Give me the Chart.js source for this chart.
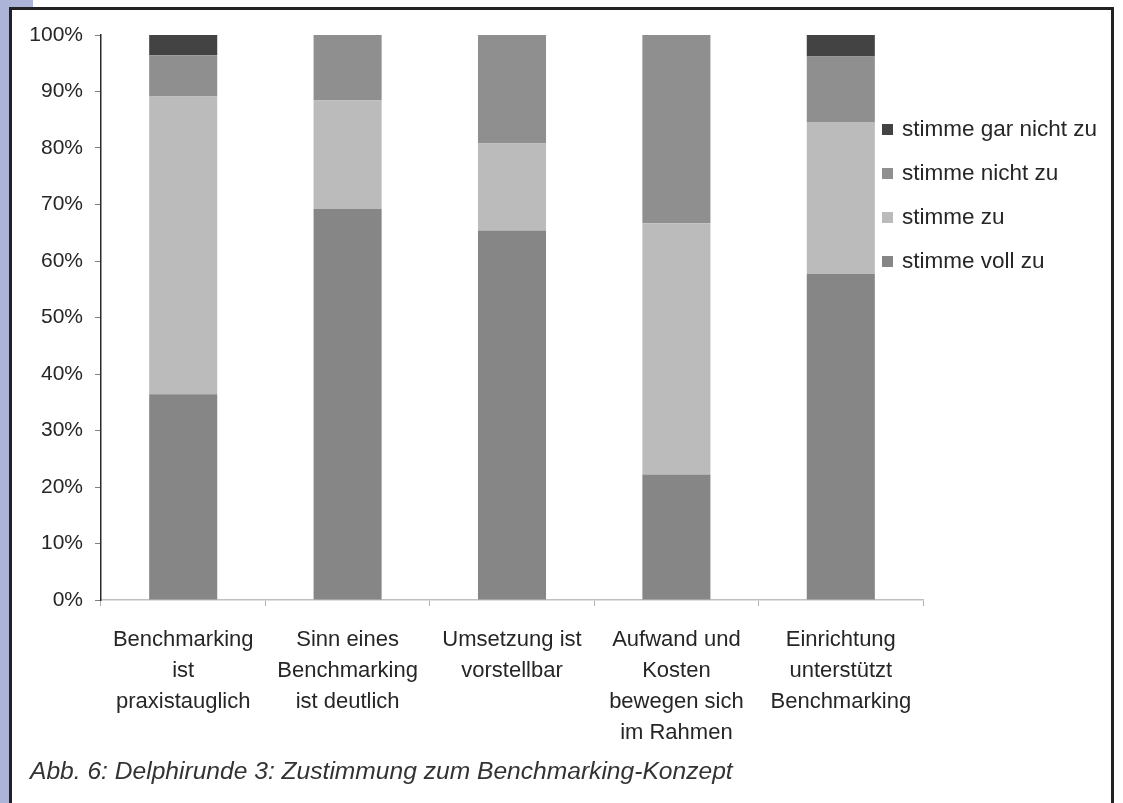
<!DOCTYPE html>
<html>
<head>
<meta charset="utf-8">
<script src="https://cdn.jsdelivr.net/npm/chart.js@4/dist/chart.umd.min.js"></script>
<style>
  html, body { margin:0; padding:0; background:#ffffff; }
  body { width:1123px; height:803px; position:relative; overflow:hidden; font-family:"Liberation Sans", Arial, sans-serif; }
  #stripL { position:absolute; left:0; top:0; width:10px; height:803px; background:#acb4d8; }
  #stripT { position:absolute; left:0; top:0; width:33px; height:8px; background:#acb4d8; }
  #frame { position:absolute; left:9px; top:7px; width:1105px; height:820px; border-left:3px solid #222; border-top:3px solid #222; border-right:3px solid #222; box-sizing:border-box; background:#fff; }
  #wrap { position:absolute; left:0; top:0; width:1123px; height:803px; }
  #legend { position:absolute; left:882px; top:0; }
  .li { position:absolute; left:0; white-space:nowrap; font-size:22.5px; color:#262626; }
  .li .box { position:absolute; left:0; width:11px; height:11px; }
  .li .txt { position:absolute; left:20px; }
  #caption { position:absolute; left:30px; top:757px; font-style:italic; font-size:24.6px; color:#333; white-space:nowrap; }
</style>
</head>
<body>
<div id="stripL"></div>
<div id="stripT"></div>
<div id="frame"></div>
<div id="wrap"><canvas id="c" width="1123" height="803"></canvas></div>
<div id="legend"></div>
<div id="caption">Abb. 6: Delphirunde 3: Zustimmung zum Benchmarking-Konzept</div>
<script>
const categories = [
  ["Benchmarking", "ist", "praxistauglich"],
  ["Sinn eines", "Benchmarking", "ist deutlich"],
  ["Umsetzung ist", "vorstellbar"],
  ["Aufwand und", "Kosten", "bewegen sich", "im Rahmen"],
  ["Einrichtung", "unterstützt", "Benchmarking"]
];
const seriesNames = ["stimme voll zu", "stimme zu", "stimme nicht zu", "stimme gar nicht zu"];
const stimmeVollZu     = [36.4, 69.2, 65.4, 22.2, 57.7];
const stimmeZu         = [52.7, 19.2, 15.4, 44.5, 26.9];
const stimmeNichtZu    = [7.3, 11.6, 19.2, 33.3, 11.6];
const stimmeGarNichtZu = [3.6, 0, 0, 0, 3.8];
const yTicks = [0, 10, 20, 30, 40, 50, 60, 70, 80, 90, 100];
const seriesColors = ["#868686", "#bbbbbb", "#8f8f8f", "#434343"];

const seriesData = [stimmeVollZu, stimmeZu, stimmeNichtZu, stimmeGarNichtZu];
const datasets = seriesNames.map((n, i) => ({
  label: n,
  data: seriesData[i],
  backgroundColor: seriesColors[i],
  borderWidth: 0,
  barPercentage: 0.414,
  categoryPercentage: 1.0
}));

const FONT = '"Liberation Sans", Arial, sans-serif';
const chart = new Chart(document.getElementById('c'), {
  type: 'bar',
  data: { labels: categories, datasets },
  options: {
    responsive: false,
    animation: false,
    layout: { padding: { top: 35, right: 200, left: 0, bottom: 0 } },
    plugins: { legend: { display: false }, tooltip: { enabled: false } },
    scales: {
      x: {
        stacked: true,
        afterFit: s => { s.height = 203; },
        border: { display: true, color: '#c0c0c0', width: 1.5 },
        grid: { display: true, drawOnChartArea: false, drawTicks: true, tickLength: 6, color: '#b0b0b0', offset: true },
        ticks: { autoSkip: false, maxRotation: 0, minRotation: 0, padding: 18, color: '#262626',
                 font: { family: FONT, size: 22, lineHeight: 31/22 } }
      },
      y: {
        stacked: true,
        min: 0, max: 100,
        afterFit: s => { s.width = 101; },
        afterBuildTicks: s => { s.ticks = yTicks.map(v => ({ value: v })); },
        border: { display: true, color: '#2a2a2a', width: 1.5 },
        grid: { display: true, drawOnChartArea: false, drawTicks: true, tickLength: 6, color: '#808080' },
        ticks: { padding: 12, color: '#262626', font: { family: FONT, size: 21 },
                 callback: v => v + '%' }
      }
    }
  }
});

// HTML legend built from datasets (reverse order, top = last stacked)
const legendEl = document.getElementById('legend');
const itemCenters = [129, 173, 217, 261];
const order = [3, 2, 1, 0];
order.forEach((di, k) => {
  const d = datasets[di];
  const it = document.createElement('div');
  it.className = 'li';
  it.style.top = (itemCenters[k] - 13) + 'px';
  it.style.height = '26px';
  const box = document.createElement('div');
  box.className = 'box';
  box.style.background = d.backgroundColor;
  box.style.top = '8px';
  const tx = document.createElement('div');
  tx.className = 'txt';
  tx.style.top = '0px';
  tx.style.lineHeight = '26px';
  tx.textContent = d.label;
  it.appendChild(box); it.appendChild(tx);
  legendEl.appendChild(it);
});
</script>
</body>
</html>
